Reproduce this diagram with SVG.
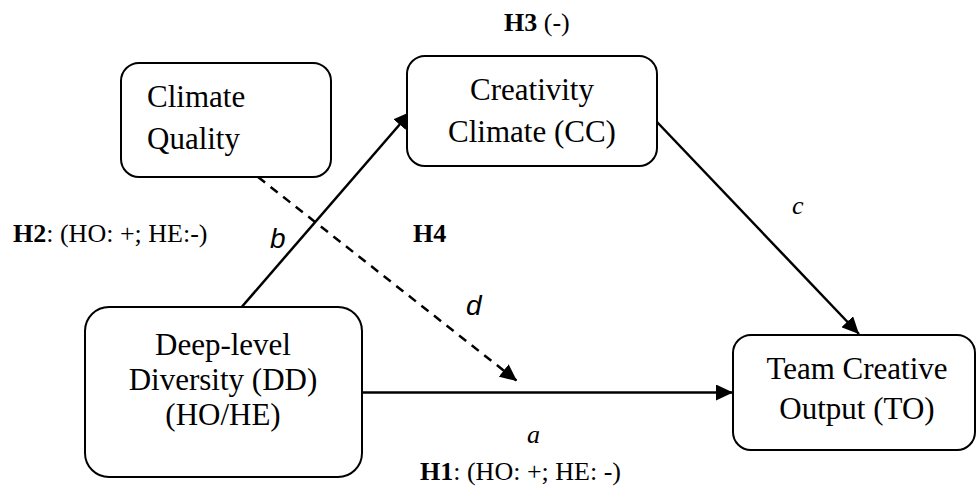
<svg xmlns="http://www.w3.org/2000/svg" width="977" height="488" viewBox="0 0 977 488">
  <style>
    .box { fill: #ffffff; stroke: #000000; stroke-width: 2; }
    .node { font-family: "Liberation Serif", "Times New Roman", serif; font-size: 31px; fill: #000000; }
    .mid { text-anchor: middle; }
    .lbl { font-family: "Liberation Serif", "Times New Roman", serif; font-size: 26px; fill: #000000; }
    .b { font-weight: bold; }
    .it { font-style: italic; }
    .sansit { font-family: "Liberation Sans", Arial, sans-serif; font-style: italic; font-size: 28px; fill: #000000; }
    .edge { stroke: #000000; stroke-width: 2.5; fill: none; }
    .dash { stroke-dasharray: 9 7; }
  </style>
  <defs>
    <marker id="arrow" markerUnits="userSpaceOnUse" markerWidth="18" markerHeight="16" refX="17" refY="8" orient="auto">
      <path d="M0,0 L17,8 L0,16 Z" fill="#000000"/>
    </marker>
  </defs>

  <rect width="977" height="488" fill="#ffffff"/>

  <!-- connectors -->
  <g id="connectors">
    <line class="edge" x1="241.7" y1="307" x2="410.7" y2="111.7" marker-end="url(#arrow)"/>
    <line class="edge" x1="657" y1="122" x2="859" y2="334" marker-end="url(#arrow)"/>
    <line class="edge" x1="362" y1="392.5" x2="733" y2="392.5" marker-end="url(#arrow)"/>
    <line class="edge dash" x1="258" y1="177" x2="517" y2="381" marker-end="url(#arrow)"/>
  </g>

  <!-- nodes -->
  <g id="climate-quality">
    <rect class="box" x="121" y="63" width="210" height="114" rx="18"/>
    <text class="node" x="147" y="107">Climate</text>
    <text class="node" x="147" y="149">Quality</text>
  </g>

  <g id="creativity-climate">
    <rect class="box" x="407" y="56" width="250" height="110" rx="18"/>
    <text class="node mid" x="532" y="100">Creativity</text>
    <text class="node mid" x="532" y="142">Climate (CC)</text>
  </g>

  <g id="deep-level-diversity">
    <rect class="box" x="85" y="307" width="277" height="170" rx="24"/>
    <text class="node mid" x="223" y="355">Deep-level</text>
    <text class="node mid" x="223" y="390">Diversity (DD)</text>
    <text class="node mid" x="223" y="425">(HO/HE)</text>
  </g>

  <g id="team-creative-output">
    <rect class="box" x="733" y="335" width="242" height="115" rx="18"/>
    <text class="node mid" x="857" y="379">Team Creative</text>
    <text class="node mid" x="857" y="419">Output (TO)</text>
  </g>

  <!-- path labels -->
  <g id="labels">
    <text class="lbl" x="504" y="31"><tspan class="b">H3</tspan> (-)</text>
    <text class="lbl" x="13" y="242"><tspan class="b">H2</tspan>: (HO: +; HE:-)</text>
    <text class="lbl b" x="413" y="242">H4</text>
    <text class="sansit" x="270" y="248">b</text>
    <text class="sansit" x="466" y="315">d</text>
    <text class="lbl it" x="792" y="214">c</text>
    <text class="lbl it" x="527" y="443">a</text>
    <text class="lbl" x="420" y="480"><tspan class="b">H1</tspan>: (HO: +; HE: -)</text>
  </g>
</svg>
